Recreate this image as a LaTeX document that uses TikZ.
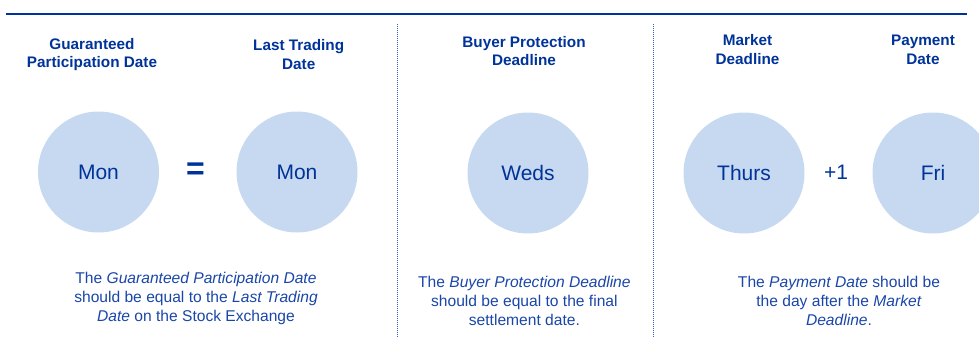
\documentclass[tikz,border=0pt]{standalone}
\usepackage{fontspec}
\setmainfont{Liberation Sans}
\usepackage{xcolor}
\usetikzlibrary{positioning}

\definecolor{navy}{HTML}{003399}
\definecolor{notecol}{HTML}{1A46A8}
\definecolor{dayfill}{HTML}{C6D9F0}
\definecolor{sepcol}{HTML}{2F62C8}

\tikzset{
  day/.style={circle, fill=dayfill, minimum size=121pt, inner sep=0pt,
    text=navy, font=\fontsize{21}{24}\selectfont},
  head/.style={align=center, text=navy, font=\fontsize{15.3}{18.5}\selectfont\bfseries},
  note/.style={align=center, text=notecol, font=\fontsize{15.6}{18.7}\selectfont},
  sep/.style={sepcol, line width=1pt, dash pattern=on 1pt off 1pt}
}

\begin{document}
\begin{tikzpicture}[x=1pt, y=1pt]
\def\cy{166} % circle height
\useasboundingbox (0,0) rectangle (979,338);
\clip (0,0) rectangle (979,338);

% top rule
\draw[navy, line width=2pt] (6,324) -- (967,324);

% dotted separators
\draw[sep] (397,314) -- (397,0);
\draw[sep] (653,314) -- (653,0);

% Part 1: participation date = last trading date
\node[day] (gpd) at (98.5,\cy) {Mon};
\node[day] (ltd) at (297,\cy) {Mon};
\node[text=navy, font=\fontsize{32}{32}\selectfont\bfseries] (eq) at (195.5,\cy+1) {=};
\node[head] (gpdhead) at (92,283.5) {Guaranteed\\Participation Date};
\node[head] (ltdhead) at (298.7,283.5) {Last Trading\\Date};
\node[note] (gpdnote) at (196,39.5) {The \textit{Guaranteed Participation Date}\\
  should be equal to the \textit{Last Trading}\\
  \textit{Date} on the Stock Exchange};

% Part 2: buyer protection deadline
\node[day] (bpd) at (528,\cy-1) {Weds};
\node[head] (bpdhead) at (524,287) {Buyer Protection\\Deadline};
\node[note] (bpdnote) at (524.4,37) {The \textit{Buyer Protection Deadline}\\
  should be equal to the final\\settlement date.};

% Part 3: market deadline +1 = payment date
\node[day] (mkt) at (744,\cy-1) {Thurs};
\node[day] (pay) at (933,\cy-1) {Fri};
\node[text=navy, font=\fontsize{21}{24}\selectfont] (plus) at (836,\cy) {+1};
\node[head] (mkthead) at (747.5,288.5) {Market\\Deadline};
\node[head] (payhead) at (923,288) {Payment\\Date};
\node[note] (paynote) at (839,37) {The \textit{Payment Date} should be\\
  the day after the \textit{Market}\\\textit{Deadline}.};

\end{tikzpicture}
\end{document}
